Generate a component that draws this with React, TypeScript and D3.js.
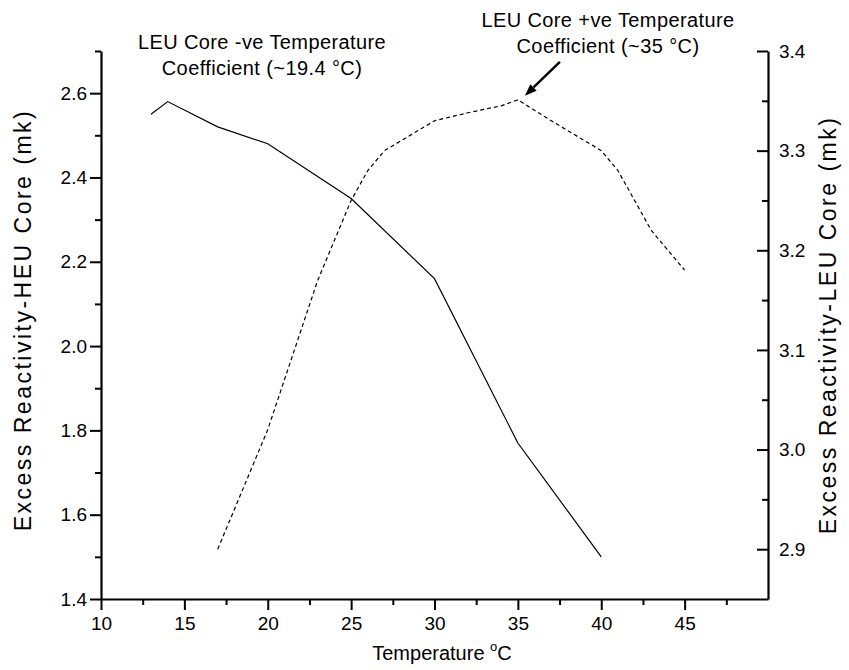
import React, { useRef, useEffect } from "react";
import * as d3 from "d3";

// HEU core (solid line, left axis)
const heuTemps = [13, 14, 17, 20, 25, 30, 35, 40];
const heuValues = [2.55, 2.58, 2.52, 2.48, 2.35, 2.16, 1.77, 1.5];

// LEU core (dashed line, right axis)
const leuTemps = [17, 18, 19, 20, 21, 22, 23, 24, 25, 26, 27, 28, 30, 32, 34, 35, 37, 39, 40, 41, 42, 43, 44, 45];
const leuValues = [2.9, 2.94, 2.98, 3.02, 3.07, 3.12, 3.17, 3.21, 3.25, 3.28, 3.3, 3.31, 3.33, 3.338, 3.345, 3.351, 3.33, 3.31, 3.3, 3.28, 3.25, 3.22, 3.2, 3.18];

const xTicks = [10, 15, 20, 25, 30, 35, 40, 45];
const xMinor = [12.5, 17.5, 22.5, 27.5, 32.5, 37.5, 42.5, 47.5];
const leftTicks = [1.4, 1.6, 1.8, 2.0, 2.2, 2.4, 2.6];
const leftMinor = [1.5, 1.7, 1.9, 2.1, 2.3, 2.5, 2.7];
const rightTicks = [2.9, 3.0, 3.1, 3.2, 3.3, 3.4];
const rightMinor = [2.95, 3.05, 3.15, 3.25, 3.35];

const W = 849;
const H = 670;
const FONT = "'Liberation Sans', Arial, sans-serif";

export default function App() {
  const svgRef = useRef<SVGSVGElement>(null);

  useEffect(() => {
    const svg = d3.select(svgRef.current);
    svg.selectAll("*").remove();

    const x = d3.scaleLinear().domain([10, 50]).range([101, 768]);
    const yL = d3.scaleLinear().domain([1.4, 2.7]).range([599, 51]);
    const yR = d3.scaleLinear().domain([2.85, 3.4]).range([599, 51]);

    const styleAxis = (g: any, noDomain = false) => {
      g.select(".domain").attr("stroke", "#000").attr("stroke-width", 2.2);
      if (noDomain) g.select(".domain").remove();
      g.selectAll(".tick line").attr("stroke", "#000").attr("stroke-width", 2);
      g.selectAll(".tick text")
        .attr("fill", "#000")
        .style("font-family", FONT)
        .style("font-size", "19px");
    };

    // bottom axis
    svg.append("g").attr("transform", "translate(0,599)")
      .call(d3.axisBottom(x).tickValues(xMinor).tickSize(6).tickSizeOuter(0).tickFormat(() => ""))
      .call((g: any) => styleAxis(g, true));
    svg.append("g").attr("transform", "translate(0,599)")
      .call(d3.axisBottom(x).tickValues(xTicks).tickSize(11).tickPadding(7).tickSizeOuter(0).tickFormat(d3.format("d")))
      .call((g: any) => styleAxis(g));

    // left axis
    svg.append("g").attr("transform", "translate(101,0)")
      .call(d3.axisLeft(yL).tickValues(leftMinor).tickSize(6).tickSizeOuter(0).tickFormat(() => ""))
      .call((g: any) => styleAxis(g, true));
    svg.append("g").attr("transform", "translate(101,0)")
      .call(d3.axisLeft(yL).tickValues(leftTicks).tickSize(11).tickPadding(3).tickSizeOuter(0).tickFormat(d3.format(".1f")))
      .call((g: any) => styleAxis(g));

    // right axis, ticks pointing inwards
    svg.append("g").attr("transform", "translate(768,0)")
      .call(d3.axisRight(yR).tickValues(rightMinor).tickSize(-6).tickSizeOuter(0).tickFormat(() => ""))
      .call((g: any) => styleAxis(g, true));
    svg.append("g").attr("transform", "translate(768,0)")
      .call(d3.axisRight(yR).tickValues(rightTicks).tickSize(-11).tickPadding(11).tickSizeOuter(0).tickFormat(d3.format(".1f")))
      .call((g: any) => styleAxis(g));

    // lines
    const heuLine = d3.line<number>().x((d, i) => x(heuTemps[i])).y((d) => yL(d));
    svg.append("path").datum(heuValues).attr("d", heuLine)
      .attr("fill", "none").attr("stroke", "#000").attr("stroke-width", 1.2);

    const leuLine = d3.line<number>().x((d, i) => x(leuTemps[i])).y((d) => yR(d));
    svg.append("path").datum(leuValues).attr("d", leuLine)
      .attr("fill", "none").attr("stroke", "#000").attr("stroke-width", 1.2)
      .attr("stroke-dasharray", "4,3");

    // axis titles
    svg.append("text")
      .attr("transform", "translate(31,320) rotate(-90)")
      .attr("text-anchor", "middle").attr("fill", "#000")
      .style("font-family", FONT).style("font-size", "23px").style("letter-spacing", "2.5px")
      .text("Excess Reactivity-HEU Core (mk)");
    svg.append("text")
      .attr("transform", "translate(836,325) rotate(-90)")
      .attr("text-anchor", "middle").attr("fill", "#000")
      .style("font-family", FONT).style("font-size", "23px").style("letter-spacing", "2.5px")
      .text("Excess Reactivity-LEU Core (mk)");
    const xt = svg.append("text")
      .attr("x", 442).attr("y", 660)
      .attr("text-anchor", "middle").attr("fill", "#000")
      .style("font-family", FONT).style("font-size", "20px");
    xt.append("tspan").text("Temperature ");
    xt.append("tspan").attr("dy", -9).style("font-size", "13px").text("o");
    xt.append("tspan").attr("dy", 9).text("C");

    // annotations
    const note = (cx: number, y1: number, l1: string, l2: string) => {
      const t = svg.append("text").attr("text-anchor", "middle").attr("fill", "#000")
        .style("font-family", FONT).style("font-size", "20px").style("letter-spacing", "0.4px");
      t.append("tspan").attr("x", cx).attr("y", y1).text(l1);
      t.append("tspan").attr("x", cx).attr("y", y1 + 26).text(l2);
    };
    note(262, 49, "LEU Core -ve Temperature", "Coefficient (~19.4 °C)");
    note(608, 27, "LEU Core +ve Temperature", "Coefficient (~35 °C)");

    // arrow to the LEU peak
    const px = x(35);
    const py = yR(3.351);
    const tip: [number, number] = [px + 7, py - 4];
    const tail: [number, number] = [px + 42, py - 38];
    const ang = Math.atan2(tip[1] - tail[1], tip[0] - tail[0]);
    const len = 12;
    const hw = 4.5;
    const bx = tip[0] - len * Math.cos(ang);
    const by = tip[1] - len * Math.sin(ang);
    svg.append("line")
      .attr("x1", tail[0]).attr("y1", tail[1]).attr("x2", bx).attr("y2", by)
      .attr("stroke", "#000").attr("stroke-width", 2.5);
    svg.append("polygon")
      .attr("points", [
        tip,
        [bx + hw * Math.sin(ang), by - hw * Math.cos(ang)],
        [bx - hw * Math.sin(ang), by + hw * Math.cos(ang)],
      ].map((p) => p.join(",")).join(" "))
      .attr("fill", "#000");
  }, []);

  return (
    <svg ref={svgRef} width={W} height={H}
      style={{ position: "absolute", left: 0, top: 0, background: "#fff" }} />
  );
}
